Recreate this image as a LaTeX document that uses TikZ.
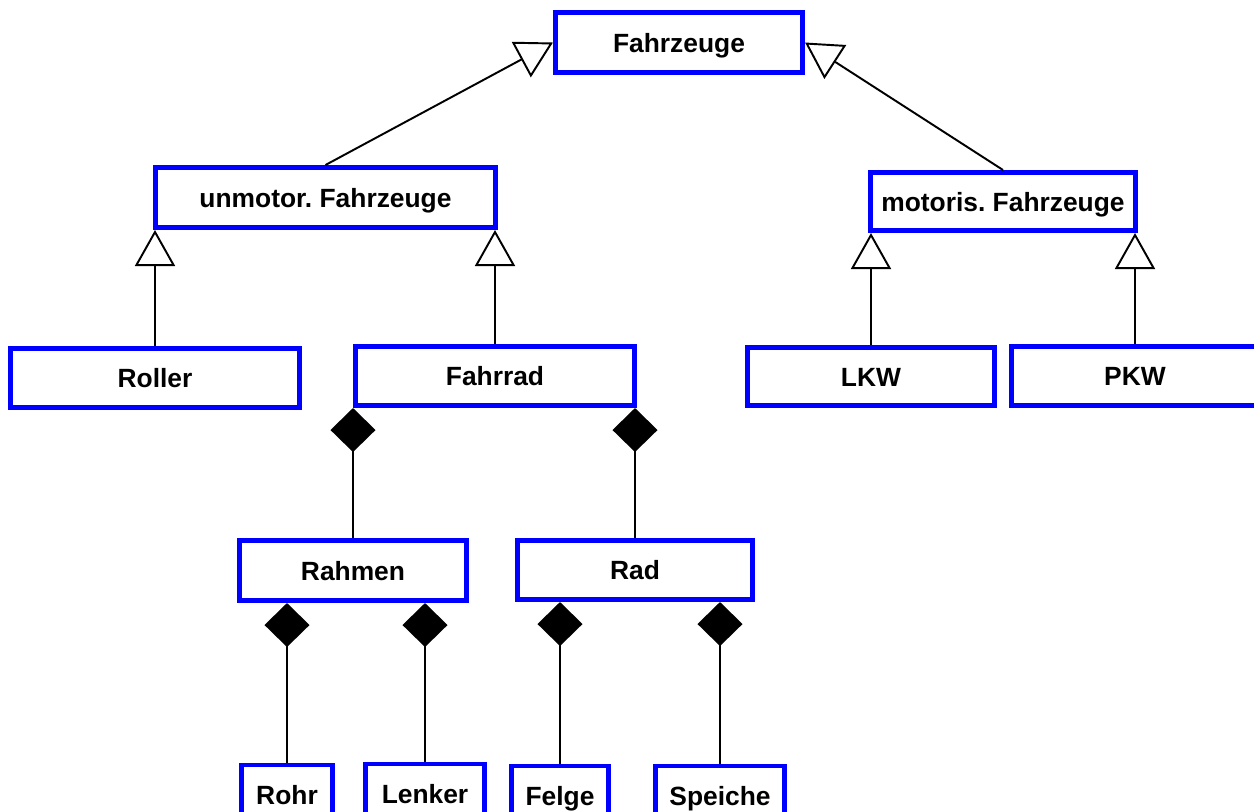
\documentclass[tikz,border=0pt]{standalone}
\usepackage{fontspec}
\setmainfont{Liberation Sans}
\usetikzlibrary{arrows.meta}
\definecolor{clrBorder}{HTML}{0000FF}
\definecolor{clrLine}  {HTML}{000000}
\tikzset{
  cls/.style = {
    rectangle, draw=clrBorder, line width=1.42pt, fill=white,
    inner sep=0pt, text height=5.4pt, text depth=0pt,
    font=\fontsize{7.5}{9}\selectfont\bfseries\frenchspacing, text=black,
  },
  gen/.style  = {-{Triangle[open, length=3.6mm, width=4.0mm]},
                 line width=0.55pt, color=clrLine},
  comp/.style = {-{Diamond[length=4.4mm, width=4.5mm]},
                 line width=0.55pt, color=clrLine},
}

\begin{document}
\begin{tikzpicture}[x=0.01cm, y=-0.01cm]

\useasboundingbox (0,0) rectangle (1254,811);
\clip (0,0) rectangle (1254,811);

% ══════════════════════════════════════════════════════════════════════════
%  Classes — top and second level
% ══════════════════════════════════════════════════════════════════════════

\node[cls, minimum width=24.7mm, minimum height=6.0mm] (fz)  at (679,  42.5) {Fahrzeuge};
\node[cls, minimum width=34.0mm, minimum height=6.0mm] (unm) at (325.5, 197.5) {unmotor. Fahrzeuge};
\node[cls, minimum width=26.5mm, minimum height=5.8mm] (mot) at (1003, 201.5) {motoris. Fahrzeuge};

% ══════════════════════════════════════════════════════════════════════════
%  Classes — third level
% ══════════════════════════════════════════════════════════════════════════

\node[cls, minimum width=28.9mm, minimum height=5.9mm] (rol) at (155,  378) {Roller};
\node[cls, minimum width=27.9mm, minimum height=5.9mm] (frd) at (495,  376) {Fahrrad};
\node[cls, minimum width=24.7mm, minimum height=5.8mm] (lkw) at (871,  376.5) {LKW};
\node[cls, minimum width=24.7mm, minimum height=5.9mm] (pkw) at (1135, 376) {PKW};

% ══════════════════════════════════════════════════════════════════════════
%  Parts of Fahrrad
% ══════════════════════════════════════════════════════════════════════════

\node[cls, minimum width=22.7mm, minimum height=6.0mm] (rah) at (353, 570.5) {Rahmen};
\node[cls, minimum width=23.5mm, minimum height=5.9mm] (rad) at (635, 570) {Rad};

\node[cls, minimum width=9.1mm,  minimum height=6.0mm] (rohr) at (287, 795) {Rohr};
\node[cls, minimum width=11.9mm, minimum height=6.0mm] (lnk)  at (425, 794) {Lenker};
\node[cls, minimum width=9.7mm,  minimum height=6.0mm] (flg)  at (560, 796) {Felge};
\node[cls, minimum width=12.9mm, minimum height=6.0mm] (spc)  at (720, 796) {Speiche};

% ══════════════════════════════════════════════════════════════════════════
%  Generalisation arrows
% ══════════════════════════════════════════════════════════════════════════

\draw[gen] (unm.north) -- (fz.west);
\draw[gen] (mot.north) -- (fz.east);

\draw[gen] (rol.north) -- (rol.north |- unm.south);
\draw[gen] (frd.north) -- (frd.north |- unm.south);
\draw[gen] (lkw.north) -- (lkw.north |- mot.south);
\draw[gen] (pkw.north) -- (pkw.north |- mot.south);

% ══════════════════════════════════════════════════════════════════════════
%  Composition (filled diamond at the whole)
% ══════════════════════════════════════════════════════════════════════════

\draw[comp] (rah.north)  -- (rah.north  |- frd.south);
\draw[comp] (rad.north)  -- (rad.north  |- frd.south);

\draw[comp] (rohr.north) -- (rohr.north |- rah.south);
\draw[comp] (lnk.north)  -- (lnk.north  |- rah.south);
\draw[comp] (flg.north)  -- (flg.north  |- rad.south);
\draw[comp] (spc.north)  -- (spc.north  |- rad.south);

\end{tikzpicture}
\end{document}
